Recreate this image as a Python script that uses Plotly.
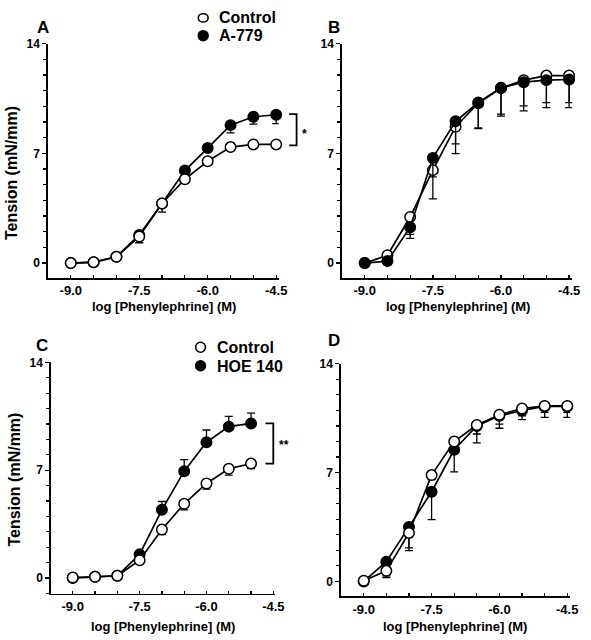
import plotly.graph_objects as go

W, H = 591, 640

# ---------------- data ----------------
log_pe = [-9.0, -8.5, -8.0, -7.5, -7.0, -6.5, -6.0, -5.5, -5.0, -4.5]
log_pe_c = [-9.0, -8.5, -8.0, -7.5, -7.0, -6.5, -6.0, -5.5, -5.0]
tick_vals_x = [-9.0, -7.5, -6.0, -4.5]
tick_text_x = ["-9.0", "-7.5", "-6.0", "-4.5"]
tick_vals_y = [0, 7, 14]
tick_text_y = ["0", "7", "14"]

# Panel A
a_control = [0.0, 0.06, 0.4, 1.7, 3.8, 5.35, 6.5, 7.4, 7.57, 7.57]
a_control_err = [0, 0, 0, 0.2, 0.2, 0.2, 0.2, 0.2, 0.2, 0.2]
a_a779 = [0.0, 0.05, 0.4, 1.8, 3.8, 5.9, 7.34, 8.8, 9.33, 9.46]
a_a779_err = [0, 0, 0, 0.5, 0.55, 0.2, 0.2, 0.5, 0.46, 0.56]

# Panel B
b_control = [0.0, 0.5, 2.94, 5.93, 8.7, 10.2, 11.16, 11.67, 11.96, 11.96]
b_control_err = [0, 0.2, 1.36, 1.83, 1.72, 1.62, 1.78, 1.96, 2.04, 2.04]
b_drug = [0.0, 0.13, 2.29, 6.71, 9.04, 10.24, 11.18, 11.54, 11.67, 11.71]
b_drug_err = [0, 0.1, 0.46, 1.21, 1.44, 1.62, 1.68, 1.51, 1.43, 1.47]

# Panel C
c_control = [0.04, 0.09, 0.15, 1.16, 3.15, 4.82, 6.14, 7.1, 7.43]
c_control_err = [0, 0, 0, 0.1, 0.32, 0.39, 0.36, 0.42, 0.33]
c_hoe140 = [0.0, 0.09, 0.15, 1.54, 4.43, 6.94, 8.82, 9.83, 10.04]
c_hoe140_err = [0, 0, 0, 0.1, 0.54, 0.75, 0.79, 0.66, 0.66]

# Panel D
d_control = [0.04, 0.68, 3.12, 6.84, 9.0, 10.06, 10.72, 11.12, 11.29, 11.29]
d_control_err = [0, 0.32, 1.14, 0.3, 0.7, 0.58, 0.6, 0.47, 0.42, 0.42]
d_drug = [0.0, 1.27, 3.5, 5.77, 8.47, 10.0, 10.65, 11.0, 11.25, 11.25]
d_drug_err = [0, 1.02, 1.34, 1.8, 1.42, 1.09, 0.8, 0.6, 0.7, 0.7]

legend_ac = ["Control", "A-779"]
legend_c = ["Control", "HOE 140"]
panel_letters = ["A", "B", "C", "D"]
x_title = "log [Phenylephrine] (M)"
y_title = "Tension (mN/mm)"

FONT = "Liberation Sans, Arial, Helvetica, sans-serif"


def px(x):
    return x / W


def py(y):
    return 1 - y / H


fig = go.Figure()


def add_series(xs, ys, err, filled, axis, err_up=False):
    ax_x, ax_y = axis
    ed = dict(type="data", symmetric=False, color="black", thickness=1.3, width=4)
    zeros = [0] * len(err)
    if err_up:
        ed.update(array=err, arrayminus=zeros)
    else:
        ed.update(array=zeros, arrayminus=err)
    fig.add_trace(go.Scatter(
        x=xs, y=ys, mode="lines+markers", xaxis=ax_x, yaxis=ax_y,
        line=dict(color="black", width=1.7),
        marker=dict(size=10.5, color="black" if filled else "white",
                    line=dict(color="black", width=1.5)),
        error_y=ed, showlegend=False, cliponaxis=False,
    ))


# A: drug first, control on top
add_series(log_pe, a_a779, a_a779_err, True, ("x", "y"))
add_series(log_pe, a_control, a_control_err, False, ("x", "y"))
# B: control first, drug on top
add_series(log_pe, b_control, b_control_err, False, ("x2", "y2"))
add_series(log_pe, b_drug, b_drug_err, True, ("x2", "y2"))
# C
add_series(log_pe_c, c_hoe140, c_hoe140_err, True, ("x3", "y3"), err_up=True)
add_series(log_pe_c, c_control, c_control_err, False, ("x3", "y3"))
# D
add_series(log_pe, d_drug, d_drug_err, True, ("x4", "y4"))
add_series(log_pe, d_control, d_control_err, False, ("x4", "y4"))

panels = {
    "": dict(xd=[49, 283.5], yd=[37, 274], xr=[-9.495, -4.445], yr=[-0.95, 14]),
    "2": dict(xd=[348, 582], yd=[37, 274], xr=[-9.498, -4.433], yr=[-0.95, 14]),
    "3": dict(xd=[52, 279.5], yd=[359.3, 593], xr=[-9.485, -4.468], yr=[-1.0, 14]),
    "4": dict(xd=[347, 580], yd=[360.7, 596], xr=[-9.5, -4.435], yr=[-0.97, 14]),
}

layout_axes = {}
for k, p in panels.items():
    layout_axes["xaxis" + k] = dict(
        domain=[px(p["xd"][0]), px(p["xd"][1])], range=p["xr"],
        anchor="y" + k, showline=True, linecolor="black", linewidth=1.8,
        showgrid=False, zeroline=False, ticks="inside", ticklen=3,
        tickwidth=1.3, tickcolor="black", tickvals=tick_vals_x,
        ticktext=tick_text_x,
        tickfont=dict(family=FONT, size=13, color="black", weight="bold"),
        minor=dict(dtick=0.5, tick0=-9, ticks="inside", ticklen=3,
                   tickwidth=1.2, tickcolor="black", showgrid=False),
        fixedrange=True,
    )
    layout_axes["yaxis" + k] = dict(
        domain=[py(p["yd"][1]), py(p["yd"][0])], range=p["yr"],
        anchor="x" + k, showline=True, linecolor="black", linewidth=1.8,
        showgrid=False, zeroline=False, ticks="outside", ticklen=4,
        tickwidth=1.3, tickcolor="black", tickvals=tick_vals_y,
        ticktext=tick_text_y,
        tickfont=dict(family=FONT, size=12, color="black", weight="bold"),
        minor=dict(dtick=1, tick0=0, ticks="outside", ticklen=3,
                   tickwidth=1.2, tickcolor="black", showgrid=False),
        fixedrange=True,
    )

annotations = []


def ann(text, x, y, size, xanchor="center", angle=0):
    annotations.append(dict(
        text=text, x=px(x), y=py(y), xref="paper", yref="paper",
        xanchor=xanchor, yanchor="middle", showarrow=False, textangle=angle,
        font=dict(family=FONT, size=size, color="black", weight="bold"),
    ))


# panel letters
ann(panel_letters[0], 43.5, 21, 17)
ann(panel_letters[1], 340, 21, 17)
ann(panel_letters[2], 43, 342.5, 17)
ann(panel_letters[3], 340, 337.5, 17)

# axis titles
for (cx, cy) in [(167, 302.5), (466, 302.5), (166, 626), (463, 626)]:
    ann(x_title, cx, cy, 13)
ann(y_title, 11, 168, 16, angle=-90)
ann(y_title, 15, 478, 16, angle=-90)

# legends
ann(legend_ac[0], 221, 11, 16, xanchor="left")
ann(legend_ac[1], 221, 29, 16, xanchor="left")
ann(legend_c[0], 219, 344, 16, xanchor="left")
ann(legend_c[1], 219, 363, 16, xanchor="left")

# significance stars
ann("*", 309.5, 128, 12)
ann("**", 289, 443, 12)

shapes = []


def circle(cx, cy, rx, ry, filled):
    shapes.append(dict(
        type="circle", xref="paper", yref="paper",
        x0=px(cx - rx), x1=px(cx + rx), y0=py(cy + ry), y1=py(cy - ry),
        line=dict(color="black", width=1.6),
        fillcolor="black" if filled else "white",
    ))


circle(206.7, 11, 5, 4.2, False)
circle(206.7, 29, 5, 5, True)
circle(204, 344, 5, 5, False)
circle(204, 362.7, 5, 5, True)


def bracket(x, y0, y1, stub):
    shapes.append(dict(
        type="path", xref="paper", yref="paper",
        path=f"M {px(x - stub)},{py(y0)} L {px(x)},{py(y0)} L {px(x)},{py(y1)} L {px(x - stub)},{py(y1)}",
        line=dict(color="black", width=1.8),
    ))


bracket(301.7, 108.3, 140, 7.5)
bracket(278, 421, 461.7, 8)

fig.update_layout(
    width=W, height=H, margin=dict(l=0, r=0, t=0, b=0),
    paper_bgcolor="white", plot_bgcolor="white",
    showlegend=False, annotations=annotations, shapes=shapes,
    **layout_axes,
)

# remove the browser's default 8px page margin so the figure fills the window exactly
fig.write_html(
    "out.html",
    config={"displayModeBar": False, "staticPlot": True},
    post_script="document.body.style.margin='0';document.body.style.overflow='hidden';",
)
